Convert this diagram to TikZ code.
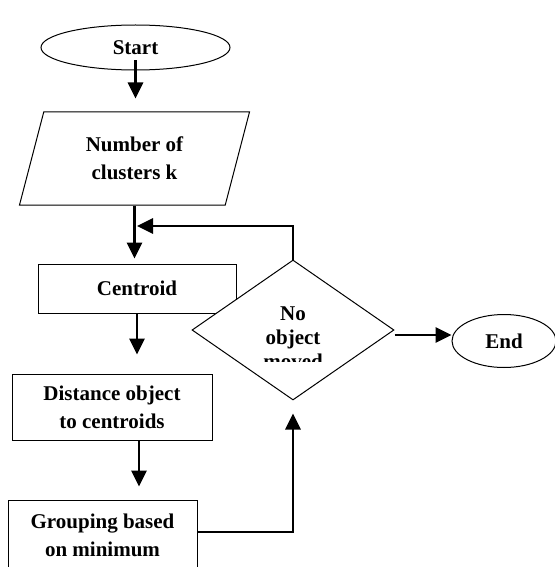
\documentclass[tikz,border=0pt]{standalone}
\usepackage{fontspec}
\setmainfont{Liberation Serif}
\usepackage{tikz}
\usetikzlibrary{shapes.geometric,arrows.meta}

\begin{document}
\begin{tikzpicture}[x=0.5pt,y=-0.5pt,
    chartbox/.style={draw, fill=white, line width=0.5pt, inner sep=0pt, align=center,
        font=\fontsize{10.5}{14}\selectfont\bfseries},
    flow/.style={-{Triangle[length=8pt,width=7.5pt]}, line width=1.4pt}]
    \clip (0,0) rectangle (555,567);
    % Nodes
    \node (start) [ellipse, chartbox, minimum width=94.5pt, minimum height=22.5pt] at (135.5,47.5) {Start};
    \node (input) [trapezium, trapezium left angle=60.6, trapezium right angle=119.4,
        trapezium stretches body, chartbox, minimum width=115pt, minimum height=46.5pt] at (134.5,158.5) {Number of\\clusters k};
    \node (centroid) [rectangle, chartbox, minimum width=99pt, minimum height=24.5pt] at (137,288.5) {Centroid};
    \node (check) [diamond, chartbox, aspect=1.443, minimum width=101pt, minimum height=70pt] at (293,330) {};
    \begin{scope}
        \clip (230,290) rectangle (360,361);
        \node (checktext) [align=center, inner sep=0pt, font=\fontsize{10.5}{12}\selectfont\bfseries] at (293,338) {No\\object\\moved};
    \end{scope}
    \node (end) [ellipse, chartbox, minimum width=52pt, minimum height=26.5pt] at (504,341) {End};
    \node (distance) [rectangle, chartbox, minimum width=100pt, minimum height=33pt] at (112,407) {Distance object\\to centroids};
    \node (grouping) [rectangle, chartbox, minimum width=94.5pt, minimum height=35.5pt] at (102.5,535.5) {Grouping based\\on minimum};
    \coordinate (join) at (137,226);

    % Arrows
    \draw[flow, shorten <=-5pt, shorten >=6.5pt] (start.south) -- (start.south |- input.north);
    \draw[flow, shorten >=2.5pt] (input.south) -- (input.south |- centroid.north);
    \draw[flow] (check.north) |- (join);
    \draw[flow, shorten >=9.5pt] (centroid.south) -- (centroid.south |- distance.north);
    \draw[flow, shorten >=6.5pt] ([xshift=1pt]centroid.south |- distance.south) -- ([xshift=1pt]centroid.south |- grouping.north);
    \draw[flow, shorten >=6.5pt] ([yshift=1.75pt]grouping.east) -| (check.south);
    \draw[flow] ([yshift=-2.5pt]check.east) -- ([yshift=-2.5pt]check.east -| end.west);
\end{tikzpicture}
\end{document}
